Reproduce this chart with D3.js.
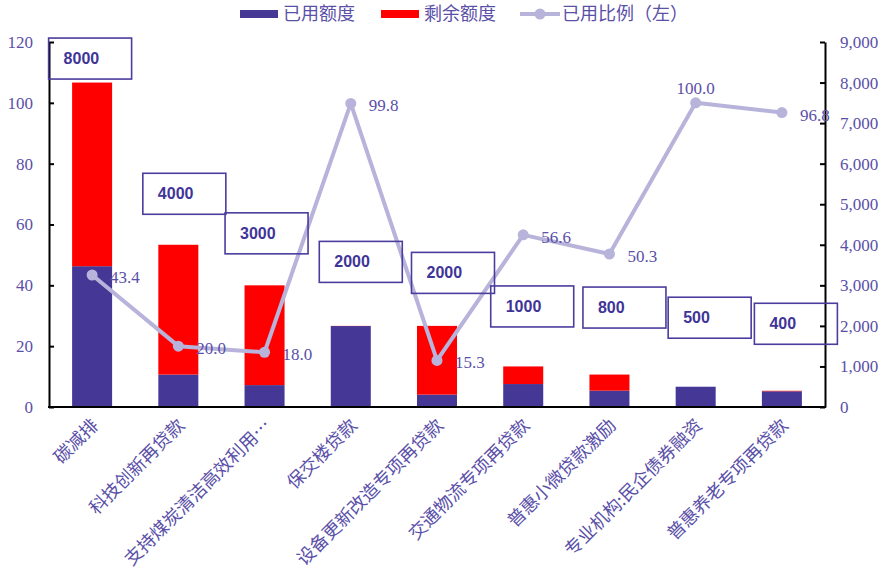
<!DOCTYPE html>
<html>
<head>
<meta charset="utf-8">
<script src="https://cdn.jsdelivr.net/npm/d3@7"></script>
<style>
  html, body { margin: 0; padding: 0; background: #fff; }
  svg { display: block; }
</style>
</head>
<body>
<svg id="chart" width="881" height="573"></svg>
<script>
// Relending tools: quota (亿元), used amount and usage ratio (%)
const categories = ["碳减排", "科技创新再贷款", "支持煤炭清洁高效利用…", "保交楼贷款",
  "设备更新改造专项再贷款", "交通物流专项再贷款", "普惠小微贷款激励", "专业机构:民企债券融资", "普惠养老专项再贷款"];
const quota = [8000, 4000, 3000, 2000, 2000, 1000, 800, 500, 400];
const usedRatio = [43.4, 20.0, 18.0, 99.8, 15.3, 56.6, 50.3, 100.0, 96.8];
const leftTicks = [0, 20, 40, 60, 80, 100, 120];
const rightTicks = [0, 1000, 2000, 3000, 4000, 5000, 6000, 7000, 8000, 9000];

// Used amount follows from quota × ratio; remaining = quota − used
const used = quota.map((q, i) => q * usedRatio[i] / 100);
const remaining = quota.map((q, i) => q - used[i]);

// Placement of the quota boxes (pixel offset from the bar top) and ratio labels
const boxOffset = [[-2, -24], [6, -51], [2, -52], [10, -64], [16, -53], [9, -60], [15, -67], [14, -69], [14, -67]];
const ratioLabelSide = ["right", "right", "right", "right", "right", "right", "right", "top", "right"];

const W = 881, H = 573;
const margin = { top: 42, right: 56, bottom: 166, left: 49 };
const innerW = W - margin.left - margin.right;
const innerH = H - margin.top - margin.bottom;

const C = {
  used: "#443796",
  remain: "#ff0000",
  line: "#b7b3da",
  text: "#5a50a8",
  box: "#4a3d9e",
  boxText: "#3f3598"
};
const serif = "'Liberation Serif','Times New Roman',serif";
const cjk = "'Noto Sans CJK SC','Noto Sans',sans-serif";

const svg = d3.select("#chart");
const g = svg.append("g").attr("transform", `translate(${margin.left},${margin.top})`);

const x = d3.scaleBand().domain(categories).range([0, innerW]).paddingInner(0.536).paddingOuter(0.268);
const yL = d3.scaleLinear().domain([0, 120]).range([innerH, 0]);
const yR = d3.scaleLinear().domain([0, 9000]).range([innerH, 0]);

// Stacked bars on the right axis
const rows = categories.map((c, i) => ({ cat: c, used: used[i], remaining: remaining[i] }));
const stack = d3.stack().keys(["used", "remaining"])(rows);
const colors = { used: C.used, remaining: C.remain };
g.selectAll("g.layer").data(stack).join("g")
  .attr("class", "layer")
  .attr("fill", d => colors[d.key])
  .selectAll("rect").data(d => d).join("rect")
  .attr("x", d => x(d.data.cat))
  .attr("width", x.bandwidth())
  .attr("y", d => yR(d[1]))
  .attr("height", d => yR(d[0]) - yR(d[1]));

// Axes
const axisL = g.append("g").call(d3.axisLeft(yL).tickValues(leftTicks).tickSizeInner(-5).tickSizeOuter(0).tickPadding(16));
const axisR = g.append("g").attr("transform", `translate(${innerW},0)`)
  .call(d3.axisRight(yR).tickValues(rightTicks).tickFormat(d3.format(",")).tickSizeInner(-5).tickSizeOuter(0).tickPadding(15));
[axisL, axisR].forEach(a => {
  a.select(".domain").attr("stroke", "#000").attr("stroke-width", 2);
  a.selectAll(".tick line").attr("stroke", "#000").attr("stroke-width", 2);
  a.selectAll(".tick text").attr("fill", C.text).attr("font-family", serif).attr("font-size", 17);
});
g.append("line").attr("x1", -1).attr("x2", innerW + 1).attr("y1", innerH).attr("y2", innerH)
  .attr("stroke", "#000").attr("stroke-width", 2);

// Category labels, rotated
g.append("g").selectAll("text").data(categories).join("text")
  .attr("transform", d => `translate(${x(d) + x.bandwidth() / 2 + 3},${innerH + 15}) rotate(-45)`)
  .attr("text-anchor", "end")
  .attr("dy", "0.35em")
  .attr("fill", C.text)
  .attr("font-family", cjk)
  .attr("font-size", 18)
  .text(d => d);

// Usage ratio line on the left axis
const pts = categories.map((c, i) => ({ cat: c, v: usedRatio[i], side: ratioLabelSide[i] }));
const cx = d => x(d.cat) + x.bandwidth() / 2;
g.append("path").datum(pts)
  .attr("fill", "none").attr("stroke", C.line).attr("stroke-width", 4).attr("stroke-linejoin", "round")
  .attr("d", d3.line().x(cx).y(d => yL(d.v)));
g.append("g").selectAll("circle").data(pts).join("circle")
  .attr("cx", cx).attr("cy", d => yL(d.v)).attr("r", 5.5).attr("fill", C.line);
g.append("g").selectAll("text").data(pts).join("text")
  .attr("x", d => d.side === "top" ? cx(d) : cx(d) + 18)
  .attr("y", d => d.side === "top" ? yL(d.v) - 15 : yL(d.v) + 2)
  .attr("dy", "0.35em")
  .attr("text-anchor", d => d.side === "top" ? "middle" : "start")
  .attr("fill", C.text).attr("font-family", serif).attr("font-size", 17)
  .text(d => d3.format(".1f")(d.v));

// Quota boxes
const boxW = 83, boxH = 41;
const boxes = g.append("g").selectAll("g").data(quota).join("g")
  .attr("transform", (d, i) => {
    const bx = x(categories[i]) + x.bandwidth() / 2 + boxOffset[i][0] - boxW / 2;
    const by = yR(d) + boxOffset[i][1] - boxH / 2;
    return `translate(${bx},${by})`;
  });
boxes.append("rect").attr("width", boxW).attr("height", boxH)
  .attr("fill", "none").attr("stroke", C.box).attr("stroke-width", 1.6);
boxes.append("text").attr("x", 15).attr("y", boxH / 2).attr("dy", "0.35em")
  .attr("fill", C.boxText).attr("font-family", "'Liberation Sans',Arial,sans-serif")
  .attr("font-weight", "bold").attr("font-size", 16)
  .text(d => d);

// Legend
const legend = svg.append("g").attr("font-family", cjk).attr("font-size", 18).attr("fill", C.text);
const legItems = [
  { label: "已用额度", type: "rect", color: C.used, x: 240 },
  { label: "剩余额度", type: "rect", color: C.remain, x: 381 },
  { label: "已用比例（左）", type: "line", color: C.line, x: 520 }
];
legItems.forEach(it => {
  const lg = legend.append("g").attr("transform", `translate(${it.x},14)`);
  if (it.type === "rect") {
    lg.append("rect").attr("x", 0).attr("y", -4).attr("width", 38).attr("height", 8).attr("fill", it.color);
  } else {
    lg.append("line").attr("x1", 0).attr("x2", 40).attr("stroke", it.color).attr("stroke-width", 4);
    lg.append("circle").attr("cx", 20).attr("r", 5.5).attr("fill", it.color);
  }
  lg.append("text").attr("x", it.type === "rect" ? 43 : 42).attr("dy", "0.35em").text(it.label);
});
</script>
</body>
</html>
